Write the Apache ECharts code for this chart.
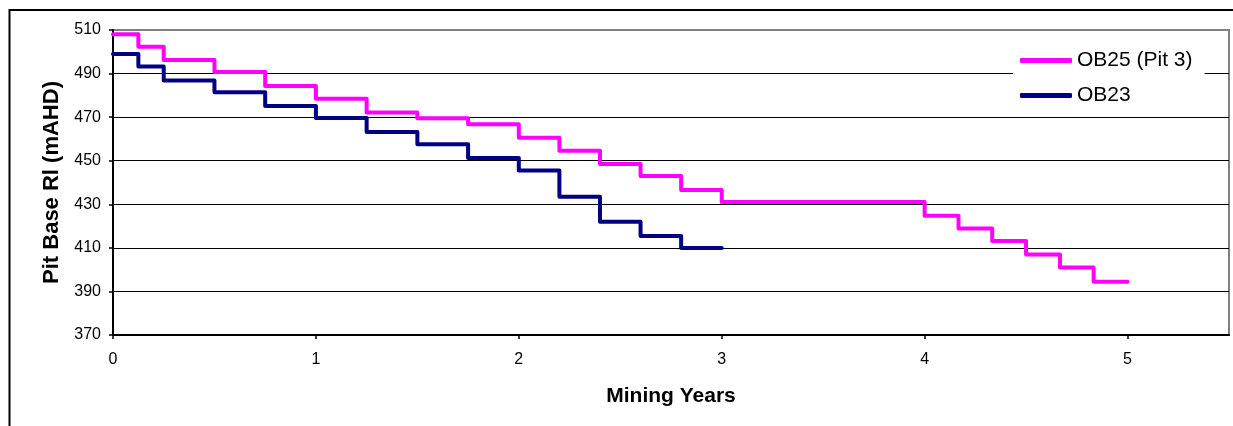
<!DOCTYPE html>
<html>
<head>
<meta charset="utf-8">
<script src="https://cdn.jsdelivr.net/npm/echarts@6/dist/echarts.min.js"></script>
<style>
html,body{margin:0;padding:0;background:#fff;}
#c{width:1233px;height:426px;}
</style>
</head>
<body>
<div id="c"></div>
<script>
// ---- data ----
var seriesNames = ['OB25 (Pit 3)', 'OB23'];
var ob25X = [0, 0.125, 0.25, 0.5, 0.75, 1, 1.25, 1.5, 1.75, 2, 2.2, 2.4, 2.6, 2.8, 3, 4, 4.167, 4.333, 4.5, 4.667, 4.833, 5];
var ob25Y = [508, 502.3, 496.2, 490.7, 484.3, 478.5, 472.1, 469.5, 466.7, 460.5, 454.6, 448.5, 443, 436.6, 431, 424.7, 418.9, 413.1, 407, 401, 394.4, 394.4];
var ob23X = [0, 0.125, 0.25, 0.5, 0.75, 1, 1.25, 1.5, 1.75, 2, 2.2, 2.4, 2.6, 2.8, 3];
var ob23Y = [499, 493.2, 486.8, 481.4, 475.1, 469.6, 463.2, 457.6, 451.3, 445.5, 433.5, 422, 415.5, 409.9, 409.9];
var xTicks = [0, 1, 2, 3, 4, 5];
var yTicks = [370, 390, 410, 430, 450, 470, 490, 510];

function zip(xs, ys) { return xs.map(function (x, i) { return [x, ys[i]]; }); }

var FONT = '"Liberation Sans", Arial, sans-serif';
var chart = echarts.init(document.getElementById('c'), null, {renderer: 'canvas'});
chart.setOption({
  animation: false,
  backgroundColor: '#ffffff',
  graphic: [{
    type: 'rect', z: -10,
    shape: {x: 9.5, y: 10, width: 1240, height: 440},
    style: {fill: 'none', stroke: '#000', lineWidth: 2}
  }],
  grid: {
    left: 113, top: 30, width: 1116, height: 305,
    show: true, borderColor: '#808080', borderWidth: 2, backgroundColor: '#fff'
  },
  legend: {
    orient: 'vertical', left: 1013, top: 44,
    backgroundColor: '#fff',
    padding: [5, 12, 5, 7],
    itemGap: 12,
    itemWidth: 52, itemHeight: 5,
    icon: 'roundRect',
    textStyle: {fontFamily: FONT, fontSize: 21, color: '#000', lineHeight: 23},
    data: seriesNames
  },
  xAxis: {
    type: 'value', min: 0, max: 5.5, interval: 1,
    name: 'Mining Years', nameLocation: 'middle', nameGap: 51,
    nameTextStyle: {fontFamily: FONT, fontSize: 21, fontWeight: 'bold', color: '#000'},
    axisLine: {show: true, onZero: false, lineStyle: {color: '#000', width: 2}},
    axisTick: {show: true, length: 4, customValues: xTicks, lineStyle: {color: '#000', width: 1.5}},
    axisLabel: {customValues: xTicks, margin: 17, fontFamily: FONT, fontSize: 16, color: '#000'},
    splitLine: {show: false}
  },
  yAxis: {
    type: 'value', min: 370, max: 510, interval: 20,
    name: 'Pit Base Rl (mAHD)', nameLocation: 'middle', nameGap: 50,
    nameTextStyle: {fontFamily: FONT, fontSize: 22, fontWeight: 'bold', color: '#000'},
    axisLine: {show: true, lineStyle: {color: '#000', width: 2}},
    axisTick: {show: true, length: 4, customValues: yTicks, lineStyle: {color: '#000', width: 1.5}},
    axisLabel: {customValues: yTicks, margin: 12, fontFamily: FONT, fontSize: 16, color: '#000'},
    splitLine: {show: true, showMinLine: false, showMaxLine: false, lineStyle: {color: '#000', width: 1}}
  },
  series: [{
    name: seriesNames[0], type: 'line', step: 'end', symbol: 'none',
    lineStyle: {color: '#ff00ff', width: 4, cap: 'round', join: 'round'},
    itemStyle: {color: '#ff00ff'},
    data: zip(ob25X, ob25Y)
  }, {
    name: seriesNames[1], type: 'line', step: 'end', symbol: 'none',
    lineStyle: {color: '#000080', width: 4, cap: 'round', join: 'round'},
    itemStyle: {color: '#000080'},
    data: zip(ob23X, ob23Y)
  }]
});
</script>
</body>
</html>
